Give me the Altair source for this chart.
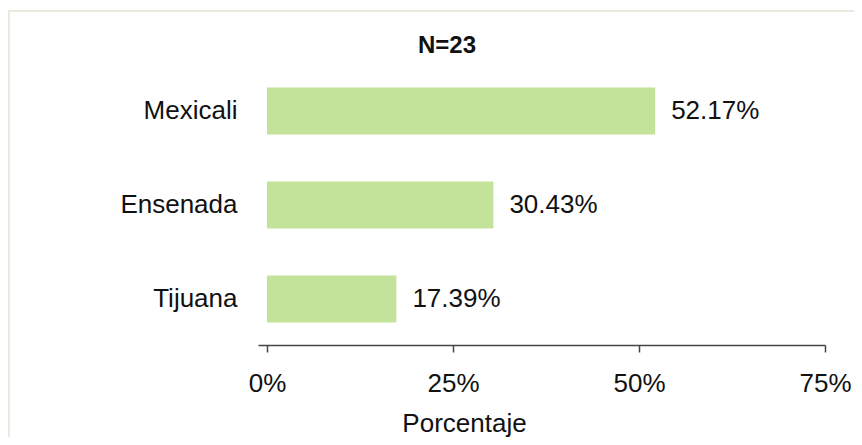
import altair as alt
import pandas as pd

cities = ["Mexicali", "Ensenada", "Tijuana"]
percentages = [52.17, 30.43, 17.39]
x_ticks = [0, 25, 50, 75]
title_text = "N=23"

df = pd.DataFrame({"ciudad": cities, "pct": percentages})

FONT = "Liberation Sans"
BAR = "#C4E39A"
FS = 26

x_scale = alt.Scale(domain=[-1.21, 75], nice=False, zero=False)
y_scale = alt.Scale(domain=cities, paddingInner=0.5, paddingOuter=0.24)

base = alt.Chart(df)

bars = base.mark_bar(color=BAR).encode(
    x=alt.X("zero:Q", scale=x_scale,
            axis=alt.Axis(values=x_ticks, labelExpr="datum.value + '%'",
                          title="Porcentaje", titleFont=FONT, titleFontSize=FS,
                          titleFontWeight="normal", titleColor="#111111",
                          titleX=206, titleY=86, titleBaseline="alphabetic",
                          titleAnchor="middle", titleAlign="center",
                          labelFont=FONT, labelFontSize=FS, labelColor="#111111",
                          labelPadding=18, tickSize=7, tickColor="#444444",
                          domainColor="#444444", domainWidth=1.5, tickWidth=1.5,
                          grid=False, labelFlush=False)),
    x2="pct:Q",
    y=alt.Y("ciudad:N", scale=y_scale, sort=cities,
            axis=alt.Axis(title=None, domain=False, ticks=False, labelPadding=21,
                          labelFont=FONT, labelFontSize=FS, labelColor="#111111")),
).transform_calculate(zero="0")

labels = base.mark_text(align="left", baseline="middle", dx=16, font=FONT,
                        fontSize=FS, color="#111111").encode(
    x=alt.X("pct:Q", scale=x_scale),
    y=alt.Y("ciudad:N", scale=y_scale, sort=cities),
    text="label:N",
).transform_calculate(label="format(datum.pct, '.2f') + '%'")

border = alt.Chart(pd.DataFrame({"a": [0]})).mark_rect(
    fill="transparent", stroke="#ECE9DF", strokeWidth=2
).encode(
    x=alt.value(-249), x2=alt.value(900), y=alt.value(-54), y2=alt.value(600)
)

title = alt.Chart(pd.DataFrame({"t": [title_text]})).mark_text(
    font=FONT, fontSize=24, fontWeight="bold", color="#111111",
    align="center", baseline="alphabetic"
).encode(
    x=alt.value(189), y=alt.value(-12), text="t:N"
)

chart = alt.layer(border, bars, labels, title).properties(
    width=567,
    height=280,
    padding={"left": 250, "top": 57, "right": 29, "bottom": 92},
    autosize=alt.AutoSizeParams(type="none"),
    background="white",
).configure_view(strokeWidth=0, stroke="transparent")

chart.save("out.html", embed_options={"renderer": "svg", "actions": False})
